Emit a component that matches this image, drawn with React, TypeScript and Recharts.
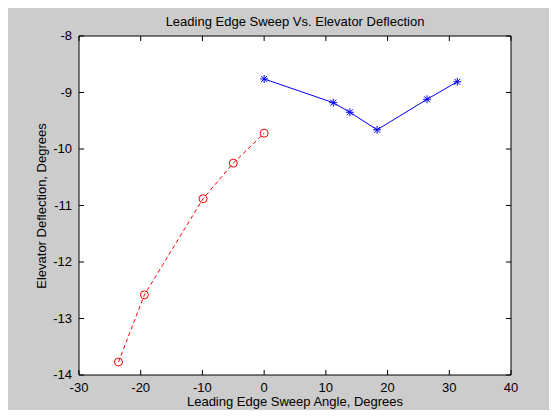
import { LineChart, Line, XAxis, YAxis, ReferenceLine } from 'recharts';

// red dashed series (negative sweep)
const sweepNeg = [-23.6, -19.4, -9.9, -5.0, 0];
const deflNeg = [-13.77, -12.58, -10.88, -10.25, -9.72];

// blue solid series (positive sweep)
const sweepPos = [0, 11.2, 13.9, 18.3, 26.4, 31.3];
const deflPos = [-8.76, -9.18, -9.35, -9.66, -9.12, -8.81];

const xTicks = [-30, -20, -10, 0, 10, 20, 30, 40];
const yTicks = [-14, -13, -12, -11, -10, -9, -8];

const W = 557;
const H = 418;
const M = { top: 36, right: 46, bottom: 0, left: 0 };
const X_AXIS_H = 43;
const Y_AXIS_W = 79;
const PLOT_W = W - M.left - M.right - Y_AXIS_W;
const PLOT_H = H - M.top - M.bottom - X_AXIS_H;
const FONT = 'Arial, "Liberation Sans", sans-serif';
const FS = 13;

const negData = sweepNeg.map((x, i) => ({ x, y: deflNeg[i] }));
const posData = sweepPos.map((x, i) => ({ x, y: deflPos[i] }));

function XTick({ x, y, payload }: any) {
  return (
    <g>
      <line x1={x} y1={y} x2={x} y2={y - 5} stroke="#000" />
      <line x1={x} y1={y - PLOT_H} x2={x} y2={y - PLOT_H + 5} stroke="#000" />
      <text x={x} y={y + 17} textAnchor="middle" fontSize={FS} fontFamily={FONT} fill="#000">
        {payload.value}
      </text>
    </g>
  );
}

function YTick({ x, y, payload }: any) {
  return (
    <g>
      <line x1={x} y1={y} x2={x + 5} y2={y} stroke="#000" />
      <line x1={x + PLOT_W} y1={y} x2={x + PLOT_W - 5} y2={y} stroke="#000" />
      <text x={x - 7} y={y + 4} textAnchor="end" fontSize={FS} fontFamily={FONT} fill="#000">
        {payload.value}
      </text>
    </g>
  );
}

function CircleDot({ cx, cy }: any) {
  if (cx == null || cy == null) return null;
  return <circle cx={cx} cy={cy} r={4} fill="none" stroke="#ff0000" strokeWidth={1} />;
}

function StarDot({ cx, cy }: any) {
  if (cx == null || cy == null) return null;
  const r = 4;
  const d = 3;
  return (
    <g stroke="#0000ff" strokeWidth={1}>
      <line x1={cx - r} y1={cy} x2={cx + r} y2={cy} />
      <line x1={cx} y1={cy - r} x2={cx} y2={cy + r} />
      <line x1={cx - d} y1={cy - d} x2={cx + d} y2={cy + d} />
      <line x1={cx - d} y1={cy + d} x2={cx + d} y2={cy - d} />
    </g>
  );
}

const textStyle = { position: 'absolute' as const, fontSize: FS, color: '#000', lineHeight: '14px', whiteSpace: 'nowrap' as const };

export default function App() {
  return (
    <div style={{ margin: -8, width: W, height: H, background: '#cccccc', position: 'relative', fontFamily: FONT, overflow: 'hidden' }}>
      <LineChart width={W} height={H} margin={M} style={{ position: 'absolute', top: 0, left: 0 }}>
        <rect x={Y_AXIS_W} y={M.top} width={PLOT_W} height={PLOT_H} fill="#ffffff" />
        <XAxis
          type="number"
          dataKey="x"
          domain={[-30, 40]}
          ticks={xTicks}
          allowDataOverflow
          height={X_AXIS_H}
          tickSize={0}
          tickMargin={0}
          tickLine={false}
          tick={<XTick />}
          axisLine={{ stroke: '#000' }}
        />
        <YAxis
          type="number"
          dataKey="y"
          domain={[-14, -8]}
          ticks={yTicks}
          allowDataOverflow
          width={Y_AXIS_W}
          tickSize={0}
          tickMargin={0}
          tickLine={false}
          tick={<YTick />}
          axisLine={{ stroke: '#000' }}
        />
        <ReferenceLine x={40} stroke="#000" />
        <ReferenceLine y={-8} stroke="#000" />
        <Line
          data={negData}
          dataKey="y"
          type="linear"
          stroke="#ff0000"
          strokeWidth={1}
          strokeDasharray="4 3"
          dot={<CircleDot />}
          activeDot={false}
          isAnimationActive={false}
        />
        <Line
          data={posData}
          dataKey="y"
          type="linear"
          stroke="#0000ff"
          strokeWidth={1}
          dot={<StarDot />}
          activeDot={false}
          isAnimationActive={false}
        />
      </LineChart>
      <div style={{ ...textStyle, top: 15, left: Y_AXIS_W, width: PLOT_W, textAlign: 'center' }}>
        Leading Edge Sweep Vs. Elevator Deflection
      </div>
      <div style={{ ...textStyle, top: 395, left: Y_AXIS_W, width: PLOT_W, textAlign: 'center' }}>
        Leading Edge Sweep Angle, Degrees
      </div>
      <div
        style={{
          ...textStyle,
          top: M.top + PLOT_H / 2 - 7,
          left: 42 - 100,
          width: 200,
          textAlign: 'center',
          transform: 'rotate(-90deg)',
        }}
      >
        Elevator Deflection, Degrees
      </div>
    </div>
  );
}
